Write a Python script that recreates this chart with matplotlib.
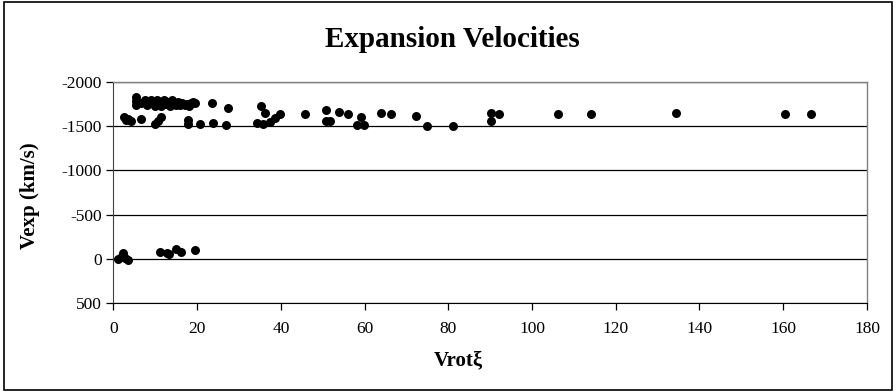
import matplotlib
matplotlib.use("Agg")
import matplotlib.pyplot as plt
from matplotlib.patches import Rectangle

plt.rcParams["font.family"] = ["Liberation Serif", "DejaVu Serif"]
plt.rcParams["axes.unicode_minus"] = False

# Vrot*xi and expansion velocity (km/s) per measured point
vrot_xi = [
    # dense band, small Vrot
    5.5, 5.5, 5.5, 6.5, 7.5, 8.0, 9.0, 9.5, 10.0, 10.5, 11.0, 11.5, 12.0, 12.5,
    13.0, 13.5, 14.0, 14.5, 15.0, 15.5, 16.0, 16.5, 17.0, 17.5, 18.0, 18.5,
    19.0, 19.5,
    # lower row near -1550
    2.5, 3.0, 3.4, 4.1, 6.7, 10.0, 10.7, 11.5, 17.8, 17.8, 20.8, 23.6, 23.9,
    26.9, 27.4,
    # mid range
    34.2, 35.3, 35.8, 36.2, 37.4, 38.6, 39.9, 45.7, 50.7, 50.9, 51.7, 54.0,
    56.1, 58.3, 59.2, 59.8, 64.0, 66.2, 72.3, 74.9, 81.2, 90.2, 90.2, 92.2,
    # high Vrot
    106.2, 114.2, 134.5, 160.5, 166.6,
    # near-zero group
    1.2, 2.0, 2.2, 2.8, 3.6, 11.2, 12.8, 13.2, 15.0, 16.2, 19.5,
]
v_exp = [
    -1830, -1780, -1740, -1760, -1800, -1740, -1790, -1760, -1730, -1800,
    -1760, -1730, -1790, -1750, -1770, -1730, -1800, -1760, -1740, -1770,
    -1740, -1760, -1740, -1750, -1730, -1760, -1770, -1760,
    -1600, -1570, -1585, -1560, -1580, -1525, -1560, -1600, -1575, -1525,
    -1525, -1760, -1540, -1510, -1707,
    -1535, -1725, -1520, -1650, -1550, -1592, -1635, -1637, -1686, -1561,
    -1561, -1656, -1636, -1510, -1608, -1510, -1654, -1636, -1618, -1507,
    -1507, -1650, -1558, -1632,
    -1634, -1634, -1652, -1634, -1634,
    3, -30, -71, -8, 11, -80, -62, -56, -108, -80, -100,
]

fig = plt.figure(figsize=(8.96, 3.92), dpi=100)
ax = fig.add_axes([0.1265, 0.227, 0.8411, 0.564])

ax.scatter(vrot_xi, v_exp, s=42, color="black", zorder=3, linewidths=0)

ax.set_xlim(0, 180)
ax.set_ylim(500, -2000)
ax.set_xticks(range(0, 181, 20))
ax.set_yticks(range(-2000, 501, 500))
ax.yaxis.grid(True, color="black", linewidth=0.9)
ax.set_axisbelow(True)

for side in ("top", "right"):
    ax.spines[side].set_color("#808080")
    ax.spines[side].set_linewidth(1.0)
ax.spines["left"].set_color("#404040")
ax.spines["bottom"].set_color("black")
ax.tick_params(axis="both", direction="out", length=5, width=0.9,
               labelsize=12.5, colors="black")
ax.tick_params(axis="x", pad=8)
ax.tick_params(axis="y", pad=3)

fig.text(0.505, 0.90, "Expansion Velocities", fontsize=21, fontweight="bold",
         ha="center", va="center")
fig.text(0.512, 0.082, "Vrotξ", fontsize=15, fontweight="bold",
         ha="center", va="center")
fig.text(0.034, 0.50, "Vexp (km/s)", fontsize=15, fontweight="bold",
         ha="center", va="center", rotation=90)

# outer chart frame
fig.patches.append(Rectangle((0.004, 0.005), 0.992, 0.99, transform=fig.transFigure,
                             fill=False, edgecolor="black", linewidth=1.2))

fig.savefig("out.png", dpi=100)
